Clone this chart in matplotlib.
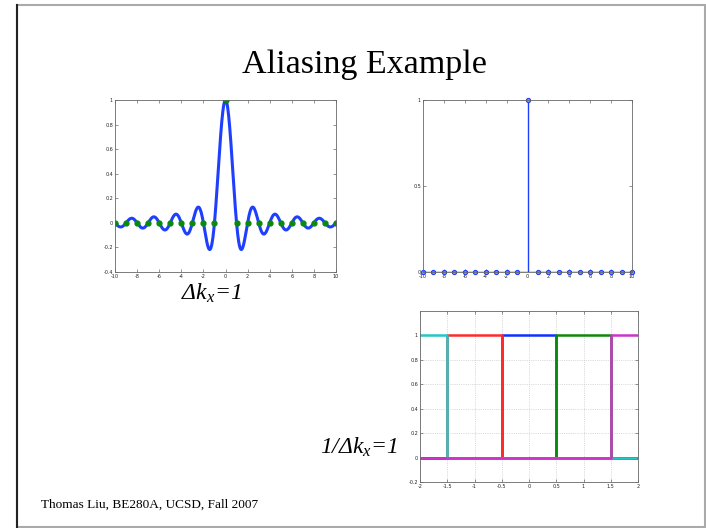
import numpy as np
import matplotlib
matplotlib.use("Agg")
import matplotlib.pyplot as plt
from matplotlib.patches import Rectangle
from matplotlib.lines import Line2D

plt.rcParams["mathtext.fontset"] = "custom"
plt.rcParams["mathtext.rm"] = "Liberation Serif"
plt.rcParams["mathtext.it"] = "Liberation Serif:italic"
plt.rcParams["mathtext.default"] = "it"
plt.rcParams["axes.unicode_minus"] = False

# sample points (integers) and their values
n_samples = np.arange(-10, 11)
sample_vals = [0, 0, 0, 0, 0, 0, 0, 0, 0, 0, 1, 0, 0, 0, 0, 0, 0, 0, 0, 0, 0]

# continuous curve: sinc
x_curve = np.linspace(-10, 10, 2001)
y_curve = np.sinc(x_curve)

# shifted rect replicas (left edge, right edge, colour)
rect_lo = [-0.5, -1.5, 0.5, -2.5, 1.5]
rect_hi = [0.5, -0.5, 1.5, -1.5, 2.5]
rect_colors = ["#1030ff", "#ff2a2a", "#0a8a0a", "#20c8c8", "#cc33cc"]

fig = plt.figure(figsize=(7.06, 5.28), dpi=100)

# slide frame
fig.add_artist(Rectangle((17 / 706, 1 / 528), 688 / 706, 522 / 528, transform=fig.transFigure,
                         fill=False, edgecolor="#aaaaaa", linewidth=1.5))
fig.add_artist(Line2D([17 / 706, 17 / 706], [1 / 528, 523 / 528], transform=fig.transFigure,
                      color="#222222", linewidth=1.5))

fig.text(364 / 706, 1 - 65 / 528, "Aliasing Example", ha="center", va="center",
         family="Liberation Serif", fontsize=24.5)
fig.text(41 / 706, 1 - 505 / 528, "Thomas Liu, BE280A, UCSD, Fall 2007", ha="left", va="center",
         family="Liberation Serif", fontsize=9.5)
fig.text(211 / 706, 1 - 293 / 528, "Δk$_x$=1", ha="center", va="center",
         family="Liberation Serif", style="italic", fontsize=17)
fig.text(359 / 706, 1 - 447 / 528, "1/Δk$_x$=1", ha="center", va="center",
         family="Liberation Serif", style="italic", fontsize=17)


def style(ax):
    for s in ax.spines.values():
        s.set_color("#666666")
        s.set_linewidth(0.6)
    ax.tick_params(direction="in", length=2, width=0.4, labelsize=3.5, pad=1.5,
                   top=True, right=True, colors="#444444", labelcolor="#222222")


# left: sinc and its samples
ax1 = fig.add_axes([115 / 706, 1 - 272 / 528, 221 / 706, 172 / 528])
ax1.plot(x_curve, y_curve, color="#1f3fff", linewidth=2.2)
ax1.plot(n_samples, sample_vals, "o", color="#0a8a0a", markersize=3.5)
ax1.set_xlim(-10, 10)
ax1.set_ylim(-0.4, 1)
ax1.set_xticks(np.arange(-10, 11, 2))
ax1.set_yticks([-0.4, -0.2, 0, 0.2, 0.4, 0.6, 0.8, 1])
ax1.set_yticklabels(["-0.4", "-0.2", "0", "0.2", "0.4", "0.6", "0.8", "1"])
style(ax1)

# right top: stem plot of samples
ax2 = fig.add_axes([423 / 706, 1 - 272 / 528, 209 / 706, 172 / 528])
ml, sl, bl = ax2.stem(n_samples, sample_vals)
plt.setp(ml, color="#1f3fff", markersize=3, markerfacecolor="#8899ff", markeredgewidth=0.8,
         clip_on=False)
plt.setp(sl, color="#1f3fff", linewidth=1.0)
plt.setp(bl, color="#333333", linewidth=1.0)
ax2.set_xlim(-10, 10)
ax2.set_ylim(0, 1)
ax2.set_xticks(np.arange(-10, 11, 2))
ax2.set_yticks([0, 0.5, 1])
ax2.set_yticklabels(["0", "0.5", "1"])
style(ax2)

# bottom right: rect replicas
ax3 = fig.add_axes([420 / 706, 1 - 482 / 528, 218 / 706, 171 / 528])
for lo, hi, c in zip(rect_lo, rect_hi, rect_colors):
    xs = [-2, lo, lo, hi, hi, 2]
    ys = [0, 0, 1, 1, 0, 0]
    ax3.plot(xs, ys, color=c, linewidth=1.8)
ax3.set_xlim(-2, 2)
ax3.set_ylim(-0.2, 1.2)
ax3.set_xticks([-2, -1.5, -1, -0.5, 0, 0.5, 1, 1.5, 2])
ax3.set_xticklabels(["-2", "-1.5", "-1", "-0.5", "0", "0.5", "1", "1.5", "2"])
ax3.set_yticks([-0.2, 0, 0.2, 0.4, 0.6, 0.8, 1])
ax3.set_yticklabels(["-0.2", "0", "0.2", "0.4", "0.6", "0.8", "1"])
ax3.grid(True, linestyle=":", color="#bbbbbb", linewidth=0.5)
style(ax3)

fig.savefig("out.png", dpi=100)
